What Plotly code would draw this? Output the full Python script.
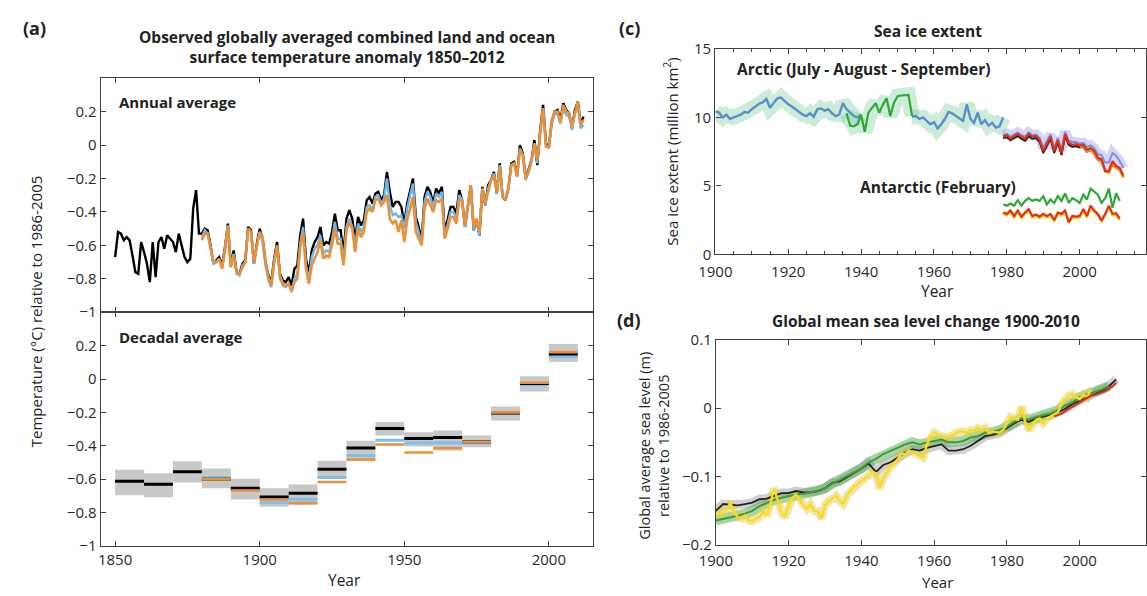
import plotly.graph_objects as go

# ---------------- DATA ----------------
# (a) annual global temperature anomaly (deg C, rel. 1986-2005)
hadcrut_start = 1850
hadcrut = [
    -0.67, -0.52, -0.53, -0.57, -0.55, -0.57, -0.66, -0.76, -0.77, -0.58,
    -0.64, -0.71, -0.82, -0.58, -0.79, -0.58, -0.55, -0.62, -0.54, -0.56,
    -0.58, -0.64, -0.53, -0.60, -0.67, -0.70, -0.68, -0.38, -0.27, -0.53,
    -0.53, -0.50, -0.51, -0.60, -0.71, -0.69, -0.67, -0.72, -0.61, -0.47,
    -0.72, -0.63, -0.76, -0.77, -0.71, -0.69, -0.49, -0.51, -0.71, -0.59,
    -0.50, -0.56, -0.70, -0.78, -0.82, -0.68, -0.58, -0.77, -0.81, -0.82,
    -0.79, -0.84, -0.74, -0.72, -0.54, -0.44, -0.68, -0.77, -0.63, -0.58,
    -0.55, -0.49, -0.60, -0.58, -0.59, -0.52, -0.41, -0.51, -0.51, -0.65,
    -0.44, -0.39, -0.44, -0.57, -0.43, -0.48, -0.45, -0.33, -0.31, -0.35,
    -0.29, -0.28, -0.33, -0.30, -0.16, -0.28, -0.37, -0.34, -0.34, -0.37,
    -0.47, -0.35, -0.27, -0.20, -0.43, -0.49, -0.57, -0.31, -0.25, -0.28,
    -0.35, -0.26, -0.29, -0.25, -0.52, -0.44, -0.37, -0.37, -0.41, -0.27,
    -0.33, -0.49, -0.37, -0.24, -0.51, -0.45, -0.54, -0.25, -0.36, -0.24,
    -0.21, -0.16, -0.29, -0.11, -0.31, -0.33, -0.26, -0.11, -0.10, -0.18,
    0.00, -0.05, -0.20, -0.15, -0.09, 0.03, -0.12, 0.09, 0.24, 0.01,
    -0.01, 0.14, 0.20, 0.21, 0.15, 0.25, 0.21, 0.19, 0.10, 0.21,
    0.26, 0.13, 0.17,
]
noaa_start = 1880
noaa = [
    -0.57, -0.53, -0.53, -0.62, -0.69, -0.70, -0.68, -0.74, -0.63, -0.49,
    -0.73, -0.66, -0.76, -0.77, -0.73, -0.70, -0.50, -0.52, -0.70, -0.61,
    -0.52, -0.55, -0.70, -0.79, -0.84, -0.69, -0.60, -0.78, -0.83, -0.84,
    -0.83, -0.87, -0.82, -0.80, -0.61, -0.52, -0.74, -0.83, -0.72, -0.68,
    -0.64, -0.57, -0.68, -0.66, -0.67, -0.60, -0.50, -0.59, -0.59, -0.72,
    -0.51, -0.46, -0.50, -0.64, -0.50, -0.55, -0.52, -0.40, -0.38, -0.40,
    -0.33, -0.32, -0.36, -0.34, -0.30, -0.44, -0.47, -0.45, -0.52, -0.45,
    -0.58, -0.45, -0.37, -0.31, -0.52, -0.56, -0.60, -0.38, -0.32, -0.36,
    -0.40, -0.33, -0.34, -0.32, -0.56, -0.50, -0.43, -0.43, -0.47, -0.33,
    -0.33, -0.48, -0.37, -0.24, -0.49, -0.44, -0.52, -0.26, -0.35, -0.27,
    -0.21, -0.18, -0.28, -0.13, -0.31, -0.32, -0.26, -0.12, -0.11, -0.19,
    -0.03, -0.06, -0.20, -0.16, -0.09, 0.01, -0.09, 0.07, 0.22, -0.01,
    -0.01, 0.15, 0.20, 0.20, 0.13, 0.24, 0.20, 0.19, 0.11, 0.19,
    0.26, 0.12, 0.15,
]
giss_start = 1880
giss = [
    -0.55, -0.51, -0.53, -0.61, -0.71, -0.70, -0.68, -0.74, -0.62, -0.48,
    -0.73, -0.65, -0.77, -0.78, -0.72, -0.70, -0.50, -0.52, -0.71, -0.60,
    -0.52, -0.58, -0.72, -0.81, -0.85, -0.71, -0.61, -0.80, -0.84, -0.85,
    -0.83, -0.88, -0.80, -0.77, -0.59, -0.49, -0.72, -0.81, -0.67, -0.62,
    -0.60, -0.54, -0.65, -0.63, -0.64, -0.57, -0.46, -0.56, -0.56, -0.70,
    -0.49, -0.44, -0.49, -0.61, -0.47, -0.52, -0.49, -0.37, -0.36, -0.39,
    -0.31, -0.30, -0.35, -0.32, -0.20, -0.36, -0.42, -0.41, -0.43, -0.42,
    -0.50, -0.38, -0.30, -0.23, -0.46, -0.52, -0.60, -0.34, -0.28, -0.31,
    -0.37, -0.29, -0.31, -0.28, -0.55, -0.47, -0.40, -0.40, -0.44, -0.30,
    -0.33, -0.49, -0.38, -0.25, -0.51, -0.45, -0.54, -0.26, -0.36, -0.26,
    -0.21, -0.17, -0.29, -0.12, -0.31, -0.33, -0.26, -0.12, -0.11, -0.19,
    -0.02, -0.06, -0.21, -0.16, -0.10, 0.01, -0.11, 0.07, 0.22, 0.00,
    -0.02, 0.13, 0.18, 0.19, 0.13, 0.22, 0.18, 0.17, 0.09, 0.19,
    0.23, 0.10, 0.12,
]

# (a) decadal averages
decade_start = [1850, 1860, 1870, 1880, 1890, 1900, 1910, 1920,
                1930, 1940, 1950, 1960, 1970, 1980, 1990, 2000]
dec_black = [-0.613, -0.630, -0.555, -0.601, -0.655, -0.707, -0.684, -0.540,
             -0.413, -0.296, -0.357, -0.351, -0.376, -0.203, -0.027, 0.150]
dec_noaa = [None, None, None, -0.601, -0.668, -0.722, -0.743, -0.617,
            -0.482, -0.392, -0.440, -0.415, -0.376, -0.200, -0.022, 0.161]
dec_giss = [None, None, None, -0.590, -0.665, -0.741, -0.720, -0.590,
            -0.459, -0.367, -0.383, -0.382, -0.382, -0.205, -0.035, 0.133]
dec_unc_hi = [-0.544, -0.565, -0.492, -0.536, -0.597, -0.655, -0.632, -0.490,
              -0.370, -0.257, -0.319, -0.309, -0.338, -0.165, 0.017, 0.210]
dec_unc_lo = [-0.697, -0.709, -0.620, -0.655, -0.722, -0.766, -0.755, -0.597,
              -0.492, -0.338, -0.405, -0.428, -0.409, -0.248, -0.075, 0.102]

# (c) sea ice extent (million km2)
arctic_hist_start = 1900
arctic_hist = [
    10.45, 10.35, 10.0, 10.2, 9.9, 10.0, 10.1, 10.2, 10.4, 10.35,
    10.6, 10.8, 11.0, 11.1, 11.35, 10.7, 11.05, 11.4, 11.45, 11.2,
    10.95, 10.8, 10.6, 10.35, 10.2, 10.1, 10.3, 10.05, 10.6, 10.65,
    10.5, 10.6, 10.3, 10.1, 10.2, 11.05, 10.6, 10.35, 10.1, 10.0,
    10.2, None, None, None, None, None, None, None, None, None,
    None, None, None, None, 10.05, 10.1, 9.9, 10.0, 9.75, 9.5,
    9.65, 9.2, 9.5, 9.9, 10.4, 10.3, 10.1, 9.9, 9.75, 10.95,
    9.9, 9.6, 10.35, 9.5, 9.8, 9.4, 9.6, 9.25, 9.35, 10.0,
]
arctic_green_start = 1936
arctic_green = [10.3, 9.4, 9.35, 9.5, 10.2, 8.95, 10.35, 10.7, 11.05, 10.35,
                10.95, 11.4, 10.1, 11.05, 11.55, 11.6, 11.6, 11.65, 10.1]
arctic_sat_start = 1979
arctic_red = [8.6, 8.7, 8.45, 8.65, 8.8, 8.6, 8.45, 8.8, 8.6, 8.65,
              8.35, 7.55, 8.1, 8.6, 7.55, 8.35, 7.4, 8.8, 8.15, 8.0,
              8.05, 7.95, 8.0, 7.65, 7.75, 7.55, 7.05, 6.95, 6.1, 6.1,
              6.8, 6.45, 6.3, 5.75]
arctic_black = [8.5, 8.55, 8.35, 8.5, 8.65, 8.45, 8.3, 8.65, 8.45, 8.5,
                8.2, 7.4, 7.95, 8.45, 7.4, 8.2, 7.25, 8.65, 8.0, 7.85,
                7.9, 7.8, 7.85, 7.5, 7.6, 7.4, 6.9, 6.8, 6.1, 6.0,
                6.6, 6.3]
arctic_blue = [8.7, 8.8, 8.6, 8.75, 8.9, 8.7, 8.6, 8.9, 8.7, 8.75,
               8.5, 7.8, 8.25, 8.75, 7.75, 8.5, 7.6, 8.95, 8.3, 8.2,
               8.2, 8.1, 8.15, 7.85, 7.95, 7.75, 7.3, 7.25, 6.7, 6.7,
               7.4, 7.2, 6.8, 6.3]
arctic_orange_start = 2000
arctic_orange = [7.85, 7.9, 7.55, 7.6, 7.4, 6.9, 6.8, 6.05, 5.95, 6.6,
                 6.3, 6.15, 5.6]
antarctic_start = 1979
antarctic_green = [3.65, 3.55, 3.7, 3.55, 3.95, 3.55, 3.9, 4.1, 3.9, 4.0,
                   3.9, 4.25, 3.65, 4.0, 3.75, 4.25, 3.9, 4.45, 3.75, 4.1,
                   3.95, 3.75, 4.35, 4.0, 4.8, 4.6, 4.35, 3.75, 4.1, 4.8,
                   3.4, 4.45, 3.9]
antarctic_red = [3.05, 2.95, 3.2, 2.8, 3.2, 2.75, 3.05, 3.3, 2.8, 2.9,
                 2.75, 2.95, 2.8, 2.95, 2.5, 3.05, 2.95, 3.2, 2.35, 2.8,
                 2.75, 2.8, 3.3, 2.8, 3.55, 3.2, 2.95, 2.45, 2.95, 3.55,
                 2.95, 3.0, 2.6]
antarctic_yellow = [2.95, 2.85, 3.1, 2.7, 3.1, 2.65, 2.95, 3.2, 2.7, 2.8,
                    2.65, 2.85, 2.7, 2.85, 2.4, 2.95, 2.85, 3.1, 2.3, 2.7,
                    2.65, 2.7, 3.2, 2.7, 3.45, 3.1, 2.85, 2.4, 2.85, 3.45,
                    2.85, 2.9, 2.5]

# (d) global mean sea level (m, rel. 1986-2005)
sl_yellow_start = 1900
sl_yellow = [
    -0.159, -0.150, -0.154, -0.147, -0.138, -0.152, -0.159, -0.161, -0.157, -0.164,
    -0.165, -0.161, -0.159, -0.150, -0.157, -0.140, -0.117, -0.133, -0.152, -0.159,
    -0.142, -0.131, -0.126, -0.133, -0.142, -0.147, -0.140, -0.150, -0.150, -0.161,
    -0.142, -0.135, -0.133, -0.128, -0.135, -0.140, -0.128, -0.121, -0.114, -0.111,
    -0.107, -0.102, -0.100, -0.093, -0.095, -0.117, -0.102, -0.093, -0.086, -0.081,
    -0.074, -0.067, -0.067, -0.062, -0.064, -0.067, -0.069, -0.072, -0.053, -0.041,
    -0.036, -0.039, -0.041, -0.043, -0.041, -0.041, -0.036, -0.034, -0.034, -0.036,
    -0.032, -0.033, -0.029, -0.032, -0.029, -0.036, -0.034, -0.035, -0.036, -0.032,
    -0.022, -0.013, -0.015, -0.017, 0.002, -0.020, -0.032, -0.025, -0.017, -0.015,
    -0.022, -0.015, -0.012, -0.010, -0.006, 0.006, 0.013, 0.018, 0.020, 0.016,
    0.013, 0.020, 0.016, 0.027,
]
sl_green_years = list(range(1900, 2009, 2))
sl_green = [
    -0.164, -0.162, -0.160, -0.157, -0.154, -0.150, -0.143, -0.138, -0.134, -0.131,
    -0.128, -0.126, -0.125, -0.123, -0.121, -0.117, -0.110, -0.105, -0.099, -0.093,
    -0.088, -0.079, -0.074, -0.067, -0.062, -0.058, -0.053, -0.050, -0.053, -0.050,
    -0.048, -0.046, -0.050, -0.050, -0.048, -0.043, -0.041, -0.036, -0.034, -0.032,
    -0.027, -0.020, -0.015, -0.017, -0.013, -0.010, -0.008, -0.003, 0.004, 0.008,
    0.016, 0.020, 0.023, 0.027, 0.032,
]
sl_black_years = list(range(1900, 2011, 2))
sl_black = [
    -0.150, -0.140, -0.141, -0.142, -0.140, -0.138, -0.133, -0.132, -0.128, -0.124,
    -0.124, -0.121, -0.123, -0.123, -0.121, -0.117, -0.109, -0.107, -0.101, -0.095,
    -0.088, -0.081, -0.093, -0.083, -0.079, -0.072, -0.065, -0.060, -0.062, -0.058,
    -0.055, -0.053, -0.062, -0.062, -0.060, -0.055, -0.048, -0.041, -0.039, -0.036,
    -0.029, -0.022, -0.017, -0.020, -0.015, -0.013, -0.010, -0.006, -0.001, 0.006,
    0.011, 0.016, 0.020, 0.025, 0.032, 0.042,
]
sl_red_years = [1993, 1995, 1997, 1999, 2001, 2003, 2005, 2007, 2009, 2010]
sl_red = [-0.012, -0.008, -0.001, 0.005, 0.012, 0.018, 0.021, 0.025, 0.032, 0.037]

# tick labels
temp_ticks = [-1, -0.8, -0.6, -0.4, -0.2, 0, 0.2]
temp_ticktext = ["\u22121", "\u22120.8", "\u22120.6", "\u22120.4", "\u22120.2", "0", "0.2"]
year_ticks_a = [1850, 1900, 1950, 2000]
year_ticks_cd = [1900, 1920, 1940, 1960, 1980, 2000]
ice_ticks = [0, 5, 10, 15]
sl_ticks = [-0.2, -0.1, 0, 0.1]
sl_ticktext = ["\u22120.2", "\u22120.1", "0", "0.1"]

# ---------------- FIGURE ----------------
W, H = 1147, 596
FONT = "Open Sans"
TXT = "#222222"


def X(p):
    return p / W


def Y(p):
    return 1 - p / H


def yrs(start, vals):
    return list(range(start, start + len(vals)))


fig = go.Figure()


def line(x, y, color, width, xa, ya):
    fig.add_trace(go.Scatter(x=x, y=y, mode="lines", xaxis=xa, yaxis=ya,
                             line=dict(color=color, width=width),
                             hoverinfo="skip", showlegend=False,
                             connectgaps=False))


# ---- (a) annual ----
line(yrs(hadcrut_start, hadcrut), hadcrut, "#000000", 2.4, "x", "y")
line(yrs(giss_start, giss), giss, "#6DB6E8", 2.4, "x", "y")
line(yrs(noaa_start, noaa), noaa, "#E8903A", 2.6, "x", "y")

# ---- (a) decadal ----
fig.add_trace(go.Bar(
    x=[d + 5 for d in decade_start],
    y=[h - l for h, l in zip(dec_unc_hi, dec_unc_lo)],
    base=dec_unc_lo, width=10, xaxis="x2", yaxis="y2",
    marker=dict(color="rgba(190,190,190,0.85)", line=dict(width=0)),
    hoverinfo="skip", showlegend=False))


def segs(vals):
    xs, ys = [], []
    for d, v in zip(decade_start, vals):
        if v is None:
            continue
        xs += [d, d + 10, None]
        ys += [v, v, None]
    return xs, ys


sx, sy = segs(dec_giss)
line(sx, sy, "#7DC0EC", 3, "x2", "y2")
sx, sy = segs(dec_black)
line(sx, sy, "#000000", 3, "x2", "y2")
sx, sy = segs(dec_noaa)
line(sx, sy, "#E8903A", 2.6, "x2", "y2")

# ---- (c) sea ice ----
line(yrs(arctic_hist_start, arctic_hist), arctic_hist, "rgba(130,205,160,0.4)", 15, "x3", "y3")
line(yrs(arctic_green_start, arctic_green), arctic_green, "rgba(130,205,160,0.4)", 15, "x3", "y3")
line(yrs(arctic_sat_start, arctic_blue), arctic_blue, "rgba(160,160,230,0.45)", 10, "x3", "y3")
line(yrs(arctic_hist_start, arctic_hist), arctic_hist, "#5B8FCB", 2.4, "x3", "y3")
line(yrs(arctic_green_start, arctic_green), arctic_green, "#2CA834", 2.2, "x3", "y3")
line(yrs(arctic_sat_start, arctic_blue), arctic_blue, "#7F8FD8", 2, "x3", "y3")
line(yrs(arctic_sat_start, arctic_black), arctic_black, "#222222", 2, "x3", "y3")
line(yrs(arctic_orange_start, arctic_orange), arctic_orange, "#F0901E", 2.4, "x3", "y3")
line(yrs(arctic_sat_start, arctic_red), arctic_red, "#E0301A", 2.2, "x3", "y3")

line(yrs(antarctic_start, antarctic_yellow), antarctic_yellow, "#F6C800", 2.4, "x3", "y3")
line(yrs(antarctic_start, antarctic_red), antarctic_red, "#E0301A", 2.2, "x3", "y3")
line(yrs(antarctic_start, antarctic_green), antarctic_green, "#2CA834", 2.2, "x3", "y3")

# ---- (d) sea level ----
line(sl_black_years, sl_black, "rgba(150,150,160,0.45)", 9, "x4", "y4")
line(sl_green_years, sl_green, "rgba(60,160,60,0.45)", 10, "x4", "y4")
line(yrs(sl_yellow_start, sl_yellow), sl_yellow, "rgba(235,200,90,0.5)", 8, "x4", "y4")
line(sl_black_years, sl_black, "#222222", 1.8, "x4", "y4")
line(sl_green_years, sl_green, "#3E9A36", 2, "x4", "y4")
line(yrs(sl_yellow_start, sl_yellow), sl_yellow, "#F2E020", 2.4, "x4", "y4")
line(sl_red_years, sl_red, "#D8301C", 2, "x4", "y4")

# ---------------- AXES ----------------
axcol = "#404040"
tickfont = dict(family=FONT, size=15, color="#2a2a2a")
base = dict(showline=True, linecolor=axcol, linewidth=1.3, mirror="allticks",
            ticks="inside", ticklen=5, tickcolor=axcol, tickwidth=1,
            showgrid=False, zeroline=False, tickfont=tickfont, fixedrange=True)

xa_dom = [X(85), X(585)]
fig.update_layout(
    xaxis=dict(base, domain=xa_dom, range=[1845, 2015.2], anchor="y",
               tickmode="array", tickvals=year_ticks_a, showticklabels=False),
    yaxis=dict(base, domain=[Y(311.7), Y(69.5)], range=[-1, 0.4], anchor="x",
               tickmode="array", tickvals=temp_ticks, ticktext=temp_ticktext),
    xaxis2=dict(base, domain=xa_dom, range=[1845, 2015.2], anchor="y2",
                tickmode="array", tickvals=year_ticks_a),
    yaxis2=dict(base, domain=[Y(553.5), Y(311.7)], range=[-1, 0.4], anchor="x2",
                tickmode="array", tickvals=temp_ticks, ticktext=temp_ticktext),
    xaxis3=dict(base, domain=[X(709.5), 1.0], range=[1900, 2018.2], anchor="y3",
                tickmode="array", tickvals=year_ticks_cd, ticklabelstandoff=4,
                minor=dict(ticks="inside", dtick=5, tick0=1900, ticklen=3,
                           tickcolor=axcol)),
    yaxis3=dict(base, domain=[Y(251.7), Y(39.3)], range=[0, 15], anchor="x3",
                tickmode="array", tickvals=ice_ticks),
    xaxis4=dict(base, domain=[X(710), 1.0], range=[1900, 2018.2], anchor="y4",
                tickmode="array", tickvals=year_ticks_cd, ticklabelstandoff=2),
    yaxis4=dict(base, domain=[Y(552.7), Y(340)], range=[-0.2, 0.1], anchor="x4",
                tickmode="array", tickvals=sl_ticks, ticktext=sl_ticktext),
)

# ---------------- TEXT ----------------
ann = []


def text(t, x, y, size=15, bold=False, angle=0, xanchor="center", color=TXT):
    ann.append(dict(text=("<b>%s</b>" % t) if bold else t, x=X(x), y=Y(y),
                    xref="paper", yref="paper", showarrow=False,
                    xanchor=xanchor, yanchor="middle", textangle=angle,
                    font=dict(family=FONT, size=size, color=color)))


text("(a)", 18, 18, size=18, bold=True)
text("Observed globally averaged combined land and ocean<br>surface temperature anomaly 1850\u20132012",
     335, 37, size=15.5, bold=True)
text("Annual average", 102, 94, size=15, bold=True, xanchor="left")
text("Decadal average", 102, 337, size=15, bold=True, xanchor="left")
text("Temperature (\u00b0C) relative to 1986-2005", 19, 311, size=15, angle=-90)
text("Year", 333, 589, size=15.5)

text("(c)", 622, 18, size=18, bold=True)
text("Sea ice extent", 926, 21, size=15.5, bold=True)
text("Arctic (July - August - September)", 729, 60, size=15.5, bold=True, xanchor="left")
text("Antarctic (February)", 854, 182, size=15.5, bold=True, xanchor="left")
text("Sea ice extent (million km<sup>2</sup>)", 664, 146, size=15, angle=-90)
text("Year", 935, 290, size=15.5)

text("(d)", 622, 320, size=18, bold=True)
text("Global mean sea level change 1900-2010", 924, 321, size=15.5, bold=True)
text("Global average sea level (m)<br>relative to 1986-2005", 647, 450, size=14.5, angle=-90)
text("Year", 935, 591, size=15)

fig.update_layout(
    annotations=ann,
    width=W, height=H, autosize=False,
    margin=dict(l=0, r=0, t=0, b=0),
    paper_bgcolor="white", plot_bgcolor="white",
    showlegend=False, barmode="overlay",
    font=dict(family=FONT, color=TXT),
)

fig.write_html("out.html", config={"displayModeBar": False},
               post_script="document.body.style.margin='0';"
                           "document.body.style.padding='0';"
                           "document.documentElement.style.overflow='hidden';"
                           "document.body.style.overflow='hidden';")
